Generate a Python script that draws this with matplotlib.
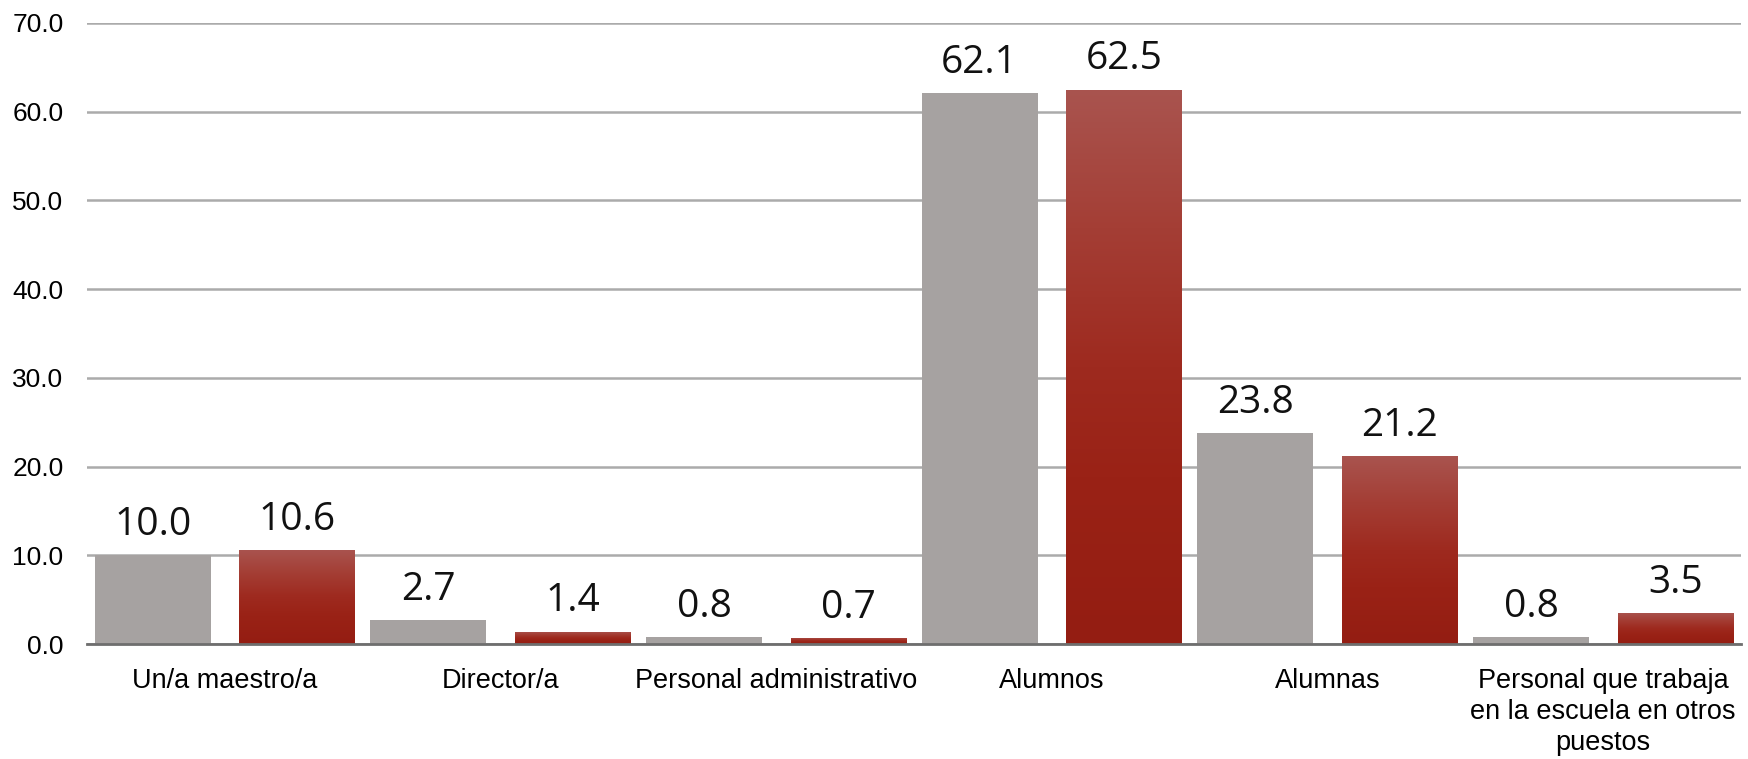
"""
Bar chart: two series per category, grey plain bars and red gradient bars.
"""
import numpy as np
import matplotlib
matplotlib.use("Agg")
import matplotlib.pyplot as plt
from matplotlib.colors import LinearSegmentedColormap

categories = [
    "Un/a maestro/a",
    "Director/a",
    "Personal administrativo",
    "Alumnos",
    "Alumnas",
    "Personal que trabaja\nen la escuela en otros\npuestos",
]
serie_gris = [10.0, 2.7, 0.8, 62.1, 23.8, 0.8]
serie_roja = [10.6, 1.4, 0.7, 62.5, 21.2, 3.5]
yticks = [0, 10, 20, 30, 40, 50, 60, 70]

GRIS = "#a6a2a1"
# gradient from bottom (0) to top (1) of each red bar
rojo_cmap = LinearSegmentedColormap.from_list(
    "rojo", [(0.0, "#941d12"), (0.3, "#9a2216"), (0.5, "#9e2a1f"),
             (0.75, "#a43e35"), (1.0, "#a9544f")])


def main(save_path="out.png"):
    fig = plt.figure(figsize=(17.48, 7.59), dpi=100)
    ax = fig.add_axes([0.0498, 0.1515, 0.9462, 0.8182])

    x = np.arange(len(categories))
    ancho = 0.42
    desp = 0.262

    ax.bar(x - desp, serie_gris, width=ancho, color=GRIS, zorder=3)
    barras = ax.bar(x + desp, serie_roja, width=ancho, color="#9e2a1f", zorder=3)

    # gradient fill clipped to each red bar
    grad = np.linspace(0, 1, 256).reshape(-1, 1)
    for b in barras:
        x0, y0 = b.get_x(), b.get_y()
        w, h = b.get_width(), b.get_height()
        im = ax.imshow(grad, cmap=rojo_cmap, origin="lower", aspect="auto",
                       extent=[x0, x0 + w, y0, y0 + h], zorder=4)
        im.set_clip_path(b)

    for xi, v in zip(x - desp, serie_gris):
        ax.annotate(f"{v:.1f}", (xi, v), xytext=(0, 8), textcoords="offset points",
                    ha="center", va="bottom", fontsize=28, family="Open Sans",
                    color="#111111")
    for xi, v in zip(x + desp, serie_roja):
        ax.annotate(f"{v:.1f}", (xi, v), xytext=(0, 8), textcoords="offset points",
                    ha="center", va="bottom", fontsize=28, family="Open Sans",
                    color="#111111")

    ax.set_xlim(-0.5, len(categories) - 0.5)
    ax.set_ylim(0, 70)
    ax.set_yticks(yticks)
    ax.set_yticklabels([f"{t:.1f}" for t in yticks], family="Liberation Sans",
                       fontsize=19)
    ax.set_xticks(x)
    ax.set_xticklabels(categories, family="Liberation Sans", fontsize=19.5,
                       linespacing=1.25, va="top")
    ax.tick_params(axis="both", length=0)
    ax.tick_params(axis="y", pad=17)
    ax.tick_params(axis="x", pad=17)

    ax.grid(axis="y", color="#ababab", linewidth=1.8, zorder=0)
    for s in ["top", "right", "left"]:
        ax.spines[s].set_visible(False)
    ax.spines["bottom"].set_color("#6e6e6e")
    ax.spines["bottom"].set_linewidth(2)
    ax.spines["bottom"].set_zorder(5)

    fig.savefig(save_path, dpi=100)
    plt.close(fig)


if __name__ == "__main__":
    main()
